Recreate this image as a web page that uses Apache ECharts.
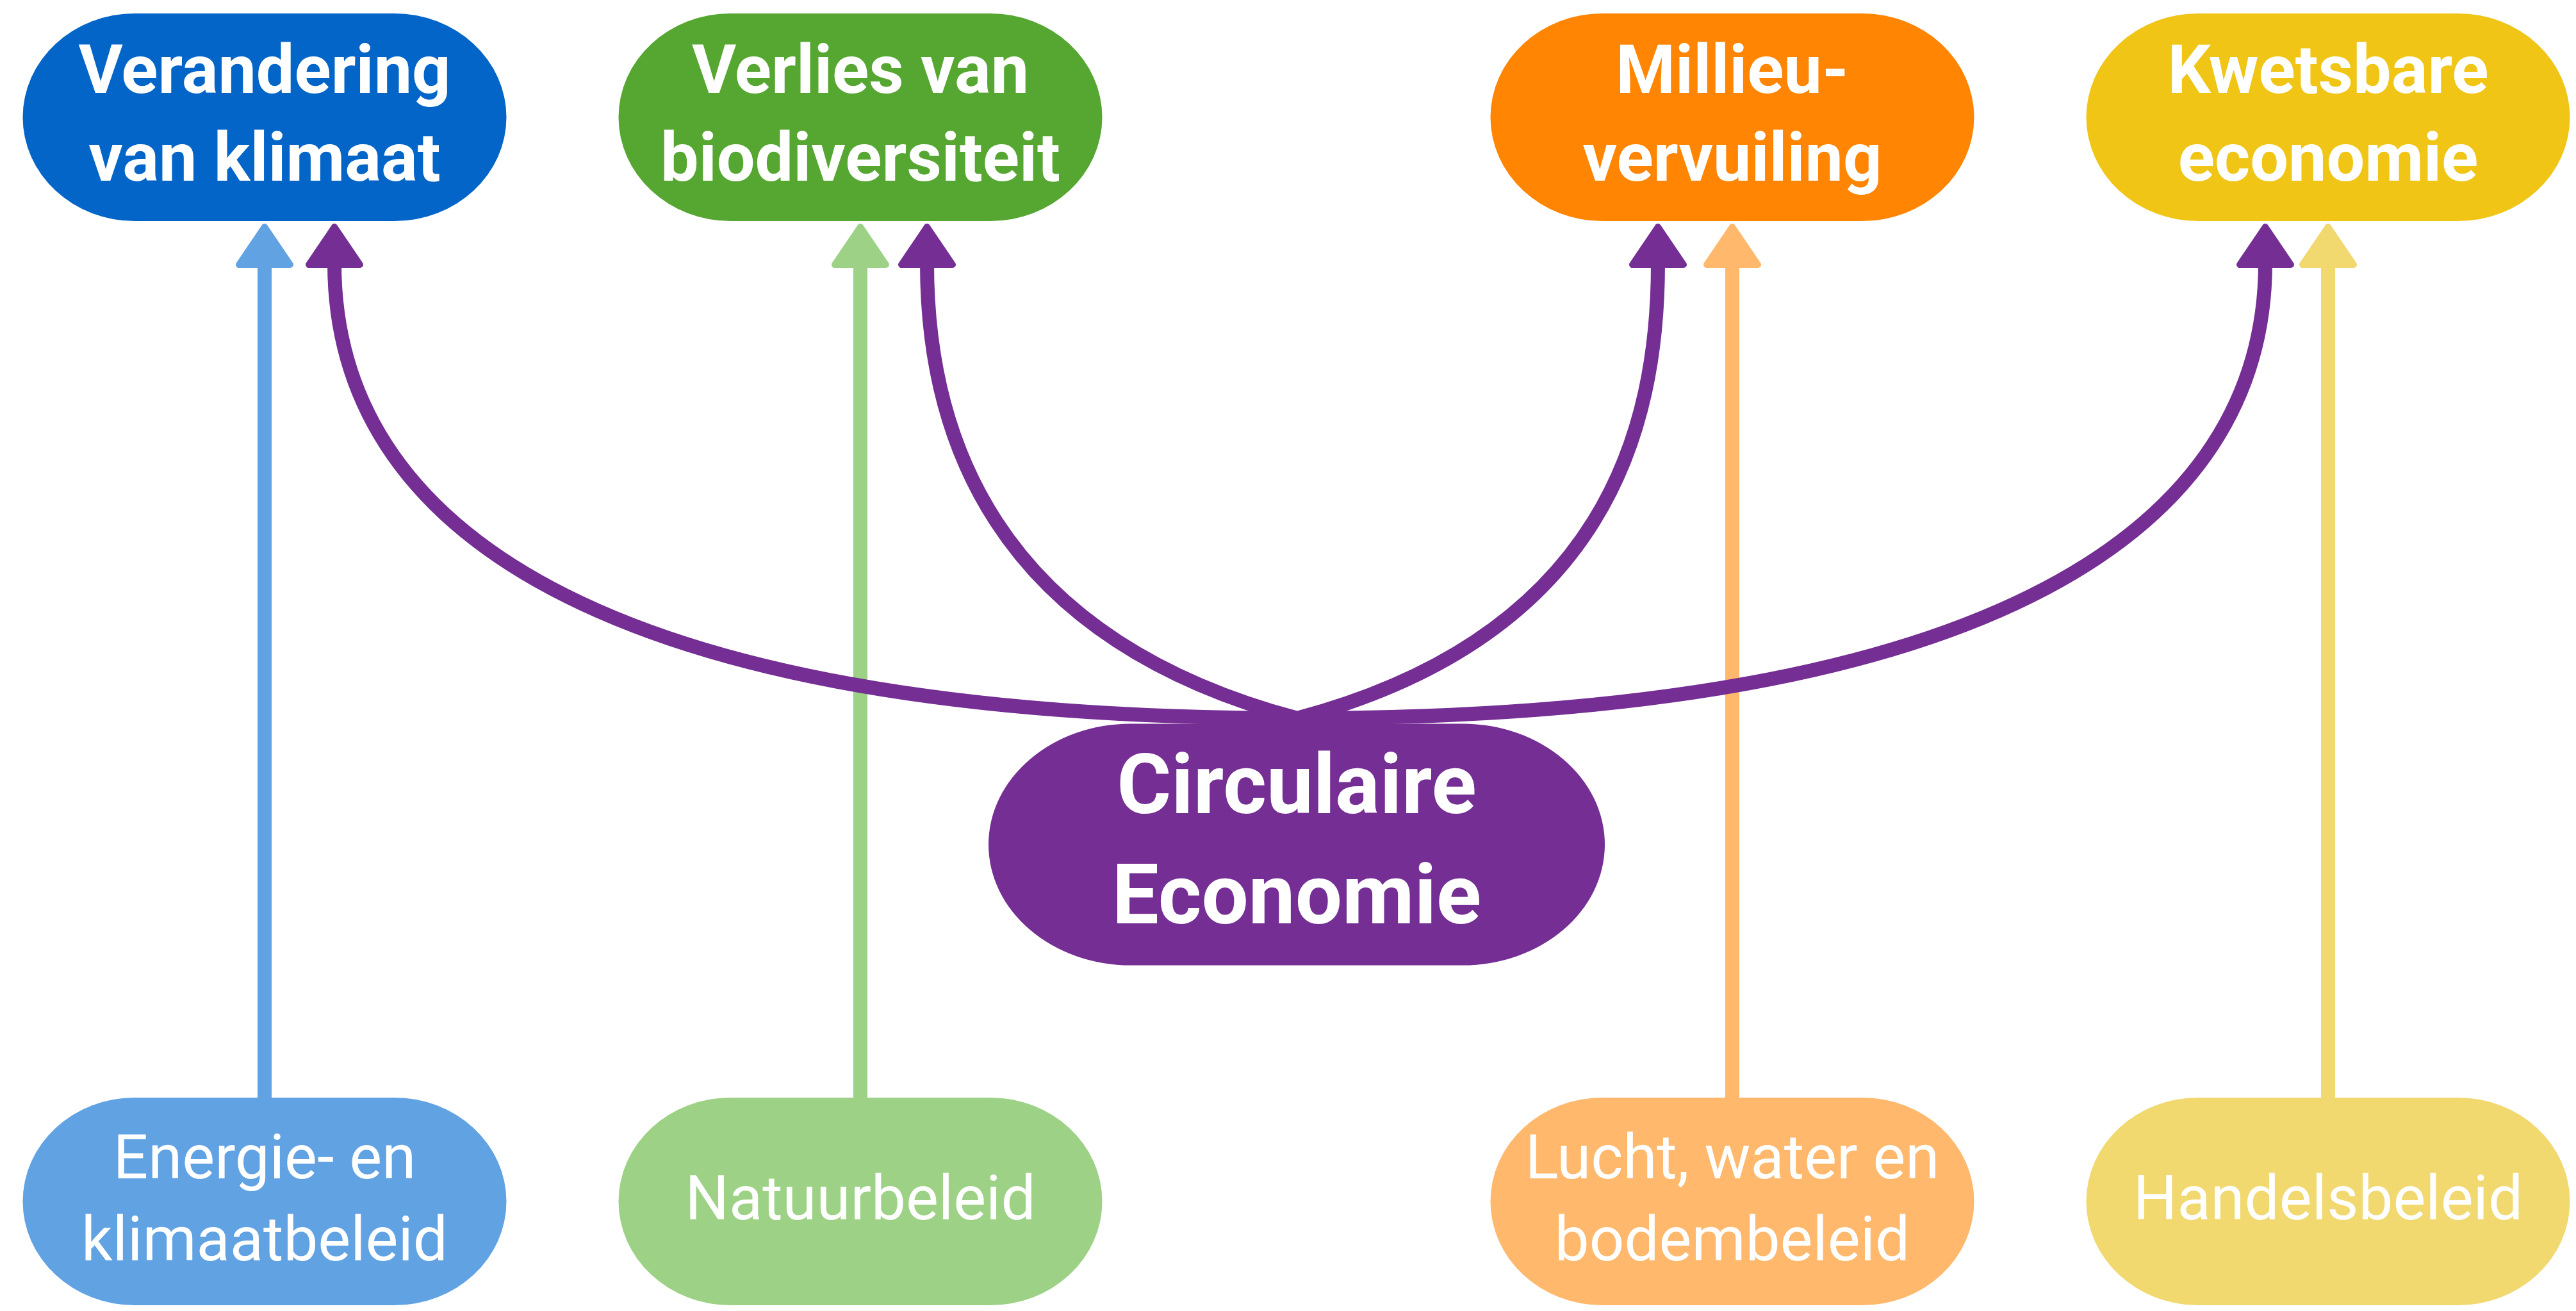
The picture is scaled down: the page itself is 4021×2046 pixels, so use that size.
<!DOCTYPE html>
<html>
<head>
<meta charset="utf-8">
<script src="https://cdn.jsdelivr.net/npm/echarts@6/dist/echarts.min.js"></script>
<style>
html, body { margin: 0; padding: 0; background: #ffffff; }
#main { width: 4021px; height: 2046px; }
</style>
</head>
<body>
<div id="main"></div>
<script>
// ---- Diagram content (diagram units) ----
const topLabels = ['Verandering\nvan klimaat', 'Verlies van\nbiodiversiteit', 'Millieu-\nvervuiling', 'Kwetsbare\neconomie'];
const bottomLabels = ['Energie- en\nklimaatbeleid', 'Natuurbeleid', 'Lucht, water en\nbodembeleid', 'Handelsbeleid'];
const centerLabel = 'Circulaire\nEconomie';

const columnX = [413, 1343, 2704, 3634];      // node column centres
const rowY = [183, 1318, 1875];               // top row, centre node, bottom row
const centerX = 2024;                          // centre node column
const purpleTipX = [522, 1447, 2588, 3536];   // where the purple arrows hit the top boxes
const curveStartHandle = [[-1100, 0], [-483, -129], [483, -129], [1100, 0]];
const curveEndHandle = [400, 250, 250, 400];

const topColors = ['#0465c8', '#56a632', '#ff8503', '#f0c515'];
const bottomColors = ['#61a2e3', '#9dd185', '#ffb86c', '#f1d86f'];
const purple = '#742e94';

// ---- Layout constants ----
const BOX = { w: 755, h: 324, rx: 175 };
const CBOX = { w: 962, h: 377, rx: 222 };
const TIP_Y = 347, HEAD_H = 70, HEAD_HALF_W = 40;
const BASE_Y = TIP_Y + HEAD_H;
const CURVE_SRC = [2025, 1121];

const boxData = [];
for (let i = 0; i < 4; i++) {
  boxData.push([columnX[i], rowY[0], 0, i]);
  boxData.push([columnX[i], rowY[2], 1, i]);
}
boxData.push([centerX, rowY[1], 2, 0]);

const lightArrowData = columnX.map((x, i) => [x, i]);
const purpleData = purpleTipX.map((x, i) => [x, i]);

function stadiumPath(cx, cy, w, h, rx) {
  const ry = h / 2;
  const l = cx - w / 2 + rx, r = cx + w / 2 - rx, t = cy - h / 2, b = cy + h / 2;
  return 'M' + l + ' ' + t + ' L' + r + ' ' + t +
    ' A' + rx + ' ' + ry + ' 0 0 1 ' + r + ' ' + b +
    ' L' + l + ' ' + b +
    ' A' + rx + ' ' + ry + ' 0 0 1 ' + l + ' ' + t + ' Z';
}

function headShape(api, tx, color) {
  const tip = api.coord([tx, TIP_Y + 7]);
  const bl = api.coord([tx - HEAD_HALF_W, BASE_Y - 4]);
  const br = api.coord([tx + HEAD_HALF_W, BASE_Y - 4]);
  return {
    type: 'polygon',
    shape: { points: [tip, bl, br] },
    style: { fill: color, stroke: color, lineWidth: 10, lineJoin: 'round' }
  };
}

const chart = echarts.init(document.getElementById('main'), null, { renderer: 'canvas' });

chart.setOption({
  backgroundColor: '#ffffff',
  animation: false,
  grid: { left: 0, right: 0, top: 0, bottom: 0 },
  xAxis: { type: 'value', min: 0, max: 4021, show: false },
  yAxis: { type: 'value', min: 0, max: 2046, inverse: true, show: false },
  series: [
    {
      type: 'custom',
      name: 'boxes',
      coordinateSystem: 'cartesian2d',
      silent: true,
      clip: false,
      data: boxData,
      renderItem: function (params, api) {
        const x = api.value(0), y = api.value(1), kind = api.value(2), idx = api.value(3);
        const spec = kind === 2 ? CBOX : BOX;
        const c = api.coord([x, y]);
        const s = api.size([spec.w, spec.h], [x, y]);
        const rx = api.size([spec.rx * 2, 0], [x, y])[0] / 2;
        let color, text, font, lh;
        if (kind === 0) { color = topColors[idx]; text = topLabels[idx]; font = 'bold 106px Roboto'; lh = 137; }
        else if (kind === 1) { color = bottomColors[idx]; text = bottomLabels[idx]; font = '96px Roboto'; lh = 128; }
        else { color = purple; text = centerLabel; font = 'bold 130px Roboto'; lh = 172; }
        return {
          type: 'group',
          children: [
            { type: 'path', shape: { pathData: stadiumPath(c[0], c[1], s[0], s[1], rx) }, style: { fill: color } },
            { type: 'text', x: c[0], y: c[1] + 4,
              style: { text: text, fill: '#ffffff', font: font, align: 'center', verticalAlign: 'middle', lineHeight: lh } }
          ]
        };
      }
    },
    {
      type: 'custom',
      name: 'policy arrows',
      coordinateSystem: 'cartesian2d',
      silent: true,
      clip: false,
      data: lightArrowData,
      renderItem: function (params, api) {
        const x = api.value(0), i = api.value(1);
        const color = bottomColors[i];
        const p1 = api.coord([x, rowY[2] - BOX.h / 2 + 2]);
        const p2 = api.coord([x, BASE_Y - 6]);
        return {
          type: 'group',
          children: [
            { type: 'line', shape: { x1: p1[0], y1: p1[1], x2: p2[0], y2: p2[1] }, style: { stroke: color, lineWidth: 22 } },
            headShape(api, x, color)
          ]
        };
      }
    },
    {
      type: 'custom',
      name: 'circular economy arrows',
      coordinateSystem: 'cartesian2d',
      silent: true,
      clip: false,
      data: purpleData,
      renderItem: function (params, api) {
        const tx = api.value(0), i = api.value(1);
        const p0 = api.coord(CURVE_SRC);
        const p1 = api.coord([CURVE_SRC[0] + curveStartHandle[i][0], CURVE_SRC[1] + curveStartHandle[i][1]]);
        const p2 = api.coord([tx, BASE_Y + curveEndHandle[i]]);
        const p3 = api.coord([tx, BASE_Y - 6]);
        return {
          type: 'group',
          children: [
            { type: 'bezierCurve',
              shape: { x1: p0[0], y1: p0[1], cpx1: p1[0], cpy1: p1[1], cpx2: p2[0], cpy2: p2[1], x2: p3[0], y2: p3[1] },
              style: { stroke: purple, lineWidth: 22, fill: null } },
            headShape(api, tx, purple)
          ]
        };
      }
    }
  ]
});
</script>
</body>
</html>
